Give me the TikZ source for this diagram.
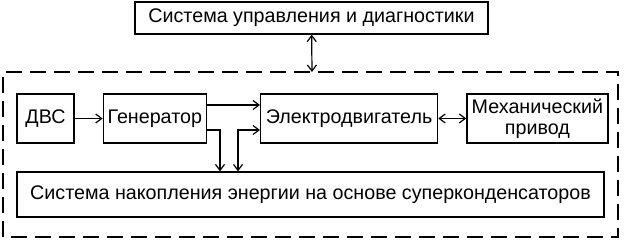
\documentclass[tikz,border=0pt]{standalone}
\usepackage{fontspec}
\setmainfont{Liberation Sans}
\usetikzlibrary{arrows.meta,positioning,calc}

\begin{document}
\begin{tikzpicture}[
            x=1pt, y=1pt,
            block/.style={rectangle, draw, line width=1.3pt, inner sep=0pt, minimum height=49pt, align=center, font=\fontsize{19.7}{21}\selectfont},
            arrow/.style={-{Straight Barb[length=6pt,width=9pt]}, line width=1.2pt},
            biarrow/.style={{Straight Barb[length=6pt,width=9pt]}-{Straight Barb[length=6pt,width=9pt]}, line width=1.2pt}
        ]
            \useasboundingbox (0,0) rectangle (624,243);
            % Control system
            \node[block, minimum width=353pt, minimum height=32pt] (control) at (311.5,225) {Система управления и диагностики};
            
            % Hybrid drive boundary
            \draw[line width=1.3pt, dash pattern=on 16pt off 8pt] (3,6) rectangle (618,171);
            \coordinate (frame) at (312,171);
            
            % Energy chain
            \node[block, minimum width=57pt] (dvs) at (45.5,124.5) {ДВС};
            \node[block, minimum width=103pt, right=28pt of dvs] (gen) {Генератор};
            \node[block, minimum width=177pt, right=53pt of gen] (motor) {Электродвигатель};
            \node[block, minimum width=141pt, right=28pt of motor] (mech) {Механический\\привод};
            
            % Storage
            \node[block, minimum width=587pt, minimum height=45pt] (storage) at (310.5,48.5) {Система накопления энергии на основе суперконденсаторов};
            
            % Arrows
            \draw[biarrow] (control) -- (frame);
            \draw[arrow] (dvs) -- (gen);
            \draw[arrow] ([yshift=13.5pt]gen.east) -- ([yshift=13.5pt]gen.east -| motor.west);
            \draw[arrow] ([yshift=-11.5pt]gen.east) -| ([xshift=-90.5pt]storage.north);
            \draw[biarrow] ([xshift=-72.5pt]storage.north) |- ([yshift=-11.5pt]motor.west);
            \draw[biarrow] (motor) -- (mech);
        \end{tikzpicture}
\end{document}
